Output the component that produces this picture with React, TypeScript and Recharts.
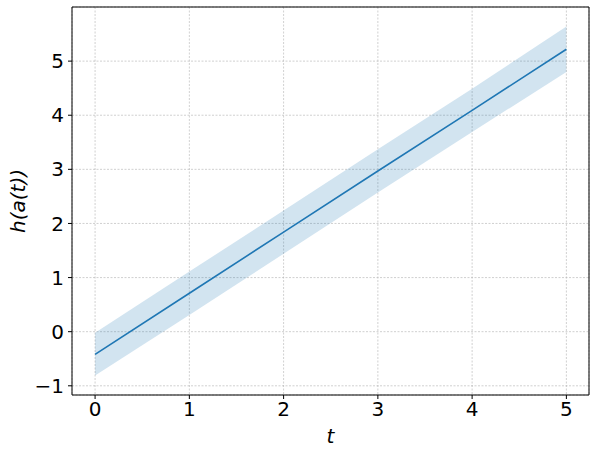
import { ComposedChart, Area, Line, XAxis, YAxis, CartesianGrid, ReferenceLine } from "recharts"

const tValues = [0, 1, 2, 3, 4, 5]
const meanValues = [-0.42, 0.71, 1.84, 2.97, 4.09, 5.22]
const lowerValues = [-0.81, 0.31, 1.44, 2.57, 3.69, 4.8]
const upperValues = [-0.02, 1.11, 2.24, 3.37, 4.49, 5.64]
const xTicks = [0, 1, 2, 3, 4, 5]
const yTicks = [-1, 0, 1, 2, 3, 4, 5]

const data = tValues.map((t, i) => ({
  t,
  mean: meanValues[i],
  band: [lowerValues[i], upperValues[i]],
}))

const font = "DejaVu Sans"
const xDomain = [-0.245, 5.24]
const yDomain = [-1.17, 6.0]

export default function App() {
  return (
    <div style={{ position: "absolute", left: 0, top: 0 }}>
      <ComposedChart
        width={598}
        height={455}
        data={data}
        margin={{ top: 7, right: 9, left: 0, bottom: 0 }}
      >
        <CartesianGrid stroke="#b0b0b0" strokeWidth={0.6} strokeDasharray="2 1.5" ticks={yTicks} />
        <XAxis
          dataKey="t"
          type="number"
          domain={xDomain}
          ticks={xTicks}
          allowDataOverflow
          stroke="#000"
          tickSize={4}
          tickMargin={3}
          height={60}
          tick={{ fill: "#000", fontSize: 20, fontFamily: font }}
          label={{ value: "t", position: "insideBottom", offset: 12, fill: "#000", fontSize: 20, fontFamily: font, fontStyle: "italic" }}
        />
        <YAxis
          type="number"
          domain={yDomain}
          ticks={yTicks}
          allowDataOverflow
          stroke="#000"
          width={72}
          tickSize={4}
          tickMargin={4}
          tickFormatter={(v) => (v < 0 ? `\u2212${Math.abs(v)}` : `${v}`)}
          tick={{ fill: "#000", fontSize: 20, fontFamily: font }}
          label={{ value: "h(a(t))", angle: -90, position: "insideLeft", offset: 18, fill: "#000", fontSize: 20, fontFamily: font, fontStyle: "italic", style: { textAnchor: "middle" } }}
        />
        <ReferenceLine y={yDomain[1]} stroke="#000" strokeWidth={1} />
        <ReferenceLine x={xDomain[1]} stroke="#000" strokeWidth={1} />
        <Area
          dataKey="band"
          type="linear"
          stroke="none"
          fill="#1f77b4"
          fillOpacity={0.2}
          isAnimationActive={false}
        />
        <Line
          dataKey="mean"
          type="linear"
          stroke="#1f77b4"
          strokeWidth={1.6}
          dot={false}
          isAnimationActive={false}
        />
      </ComposedChart>
    </div>
  )
}
